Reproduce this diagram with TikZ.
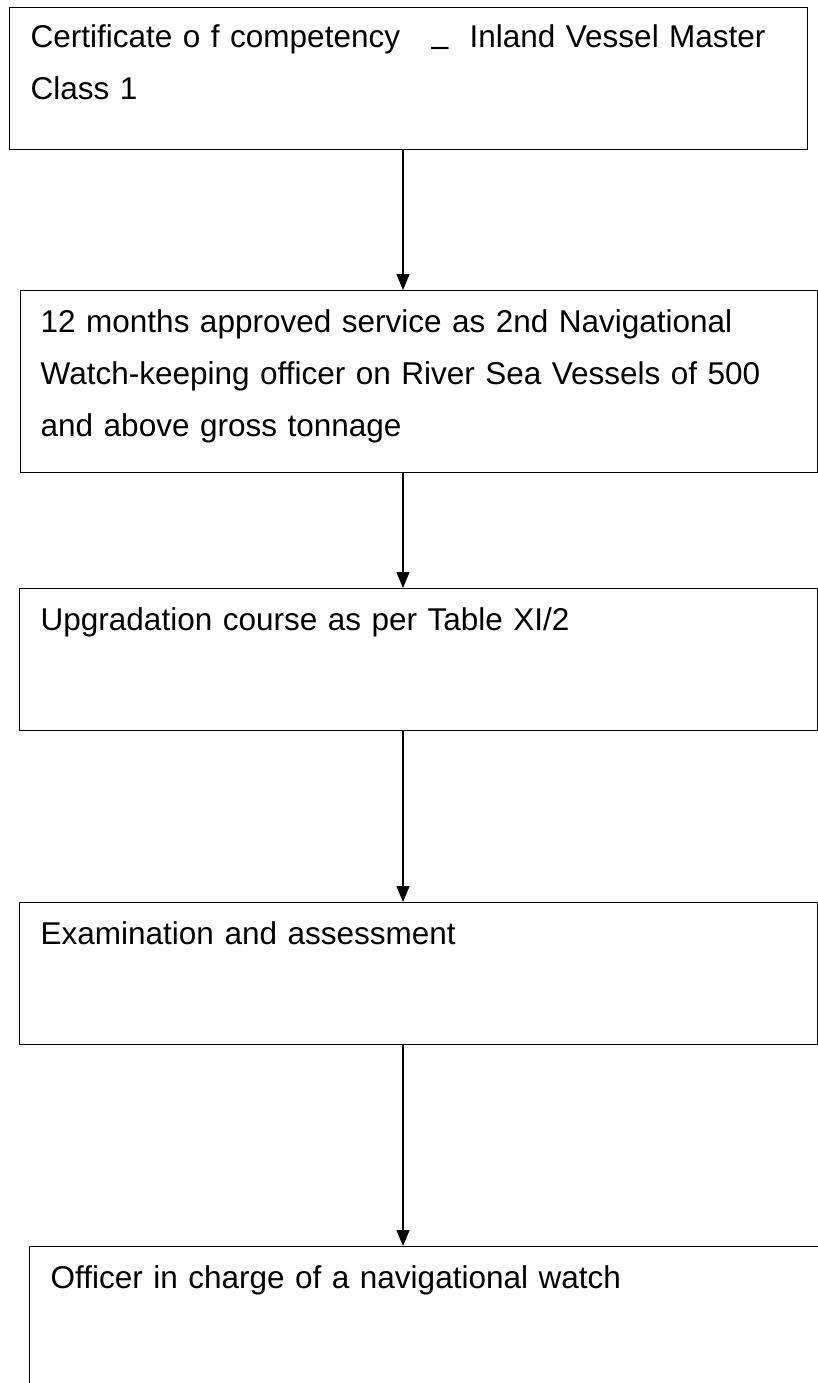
\documentclass[tikz,border=0pt]{standalone}
\usepackage{fontspec}
\setmainfont{Liberation Sans}
\usetikzlibrary{arrows.meta}
\begin{document}
\begin{tikzpicture}[x=1pt,y=-1pt,line width=1.4pt,every node/.style={font=\fontsize{31.5}{52}\selectfont},
  box/.style={draw,anchor=north west,inner sep=0pt},
  txt/.style={anchor=base west,inner sep=0pt,align=left,text width=780pt},
  >={Triangle[length=16pt,width=13pt]}]
\useasboundingbox (0,0) rectangle (818,1383);
\clip (0,0) rectangle (818,1383);
\node[box,minimum width=798pt,minimum height=142pt] (cert) at (9,7) {};
\node[box,minimum width=797pt,minimum height=182pt] (serv) at (20,290) {};
\node[box,minimum width=798pt,minimum height=142pt] (upgr) at (19,588) {};
\node[box,minimum width=798pt,minimum height=142pt] (exam) at (19,902) {};
\node[box,minimum width=820pt,minimum height=200pt] (oicnw) at (29,1246) {};
\node[txt] (certtxt) at ([shift={(21,41)}]cert.north west) {Certificate o f competency\hspace{31pt}\raisebox{-0.27em}{–}\hspace{21pt}Inland Vessel Master\\Class 1};
\node[txt] (servtxt) at ([shift={(20,42)}]serv.north west) {12 months approved service as 2nd Navigational\\Watch-keeping officer on River Sea Vessels of 500\\and above gross tonnage};
\node[txt] (upgrtxt) at ([shift={(21,42)}]upgr.north west) {Upgradation course as per Table XI/2};
\node[txt] (examtxt) at ([shift={(21,42)}]exam.north west) {Examination and assessment};
\node[txt] (oicnwtxt) at ([shift={(21,42)}]oicnw.north west) {Officer in charge of a navigational watch};
\coordinate (col) at (403,0);
\draw[->] (cert.south -| col)--(serv.north -| col); \draw[->] (serv.south -| col)--(upgr.north -| col);
\draw[->] (upgr.south -| col)--(exam.north -| col); \draw[->] (exam.south -| col)--(oicnw.north -| col);
\end{tikzpicture}
\end{document}
